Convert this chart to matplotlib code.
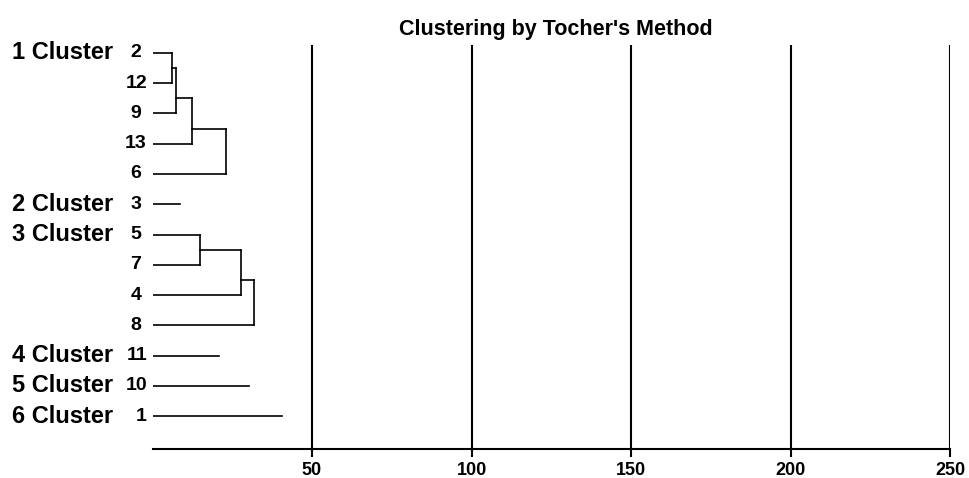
import matplotlib
matplotlib.use("Agg")
import matplotlib.pyplot as plt
from matplotlib.transforms import blended_transform_factory

# groups found by Tocher's method, leaves in drawing order
cluster_names = ["1 Cluster", "2 Cluster", "3 Cluster", "4 Cluster", "5 Cluster", "6 Cluster"]
cluster_leaves = [["2", "12", "9", "13", "6"], ["3"], ["5", "7", "4", "8"], ["11"], ["10"], ["1"]]
# distance at which each next leaf joins the group (single leaf: own length)
join_heights = [[6.1, 7.4, 12.4, 23.0], [8.5], [14.9, 27.7, 31.8], [20.8], [30.3], [40.6]]
xticks = [50, 100, 150, 200, 250]

plt.rcParams["font.family"] = ["Liberation Sans", "DejaVu Sans"]
plt.rcParams["font.weight"] = "bold"

W, H = 969, 478
fig = plt.figure(figsize=(W / 100, H / 100), dpi=100)
ax = fig.add_axes([152.5 / W, 29 / H, (950 - 152.5) / W, (449 - 45) / H])

lw = 1.2
row = 0
for name, leaves, hs in zip(cluster_names, cluster_leaves, join_heights):
    rows = list(range(row, row + len(leaves)))
    if len(leaves) == 1:
        ax.plot([0, hs[0]], [rows[0], rows[0]], color="black", lw=lw)
    else:
        # first pair
        h = hs[0]
        ax.plot([0, h], [rows[0], rows[0]], color="black", lw=lw)
        ax.plot([0, h], [rows[1], rows[1]], color="black", lw=lw)
        ax.plot([h, h], [rows[0], rows[1]], color="black", lw=lw)
        node_y = (rows[0] + rows[1]) / 2
        prev_h = h
        for k in range(2, len(leaves)):
            h = hs[k - 1]
            y = rows[k]
            ax.plot([prev_h, h], [node_y, node_y], color="black", lw=lw)
            ax.plot([0, h], [y, y], color="black", lw=lw)
            ax.plot([h, h], [node_y, y], color="black", lw=lw)
            node_y = (node_y + 2 * y) / 3
            prev_h = h
    trans = blended_transform_factory(fig.transFigure, ax.transData)
    ax.text(12 / W, rows[0], name, transform=trans, ha="left", va="center",
            fontsize=17, fontweight="bold")
    for lab, y in zip(leaves, rows):
        txt = lab + " " if (len(lab) == 1 and lab != "1") else lab
        ax.annotate(txt, xy=(0, y), xytext=(-4, 0), textcoords="offset points",
                    ha="right", va="center", fontsize=14, fontweight="bold")
    row += len(leaves)

for x in xticks:
    ax.axvline(x, color="black", lw=1.5)

ax.set_xlim(0, 250)
ax.set_ylim(13.09, -0.264)
ax.set_xticks(xticks)
ax.set_xticklabels([str(x) for x in xticks], fontsize=13, fontweight="bold")
ax.tick_params(axis="x", length=6, width=1.5, pad=3.5, direction="out")
ax.set_yticks([])
for s in ["top", "right", "left"]:
    ax.spines[s].set_visible(False)
ax.spines["bottom"].set_linewidth(1.5)

fig.text(556 / W, (H - 35) / H, "Clustering by Tocher's Method", ha="center", va="baseline",
         fontsize=15.5, fontweight="bold")

fig.savefig("out.png", dpi=100)
